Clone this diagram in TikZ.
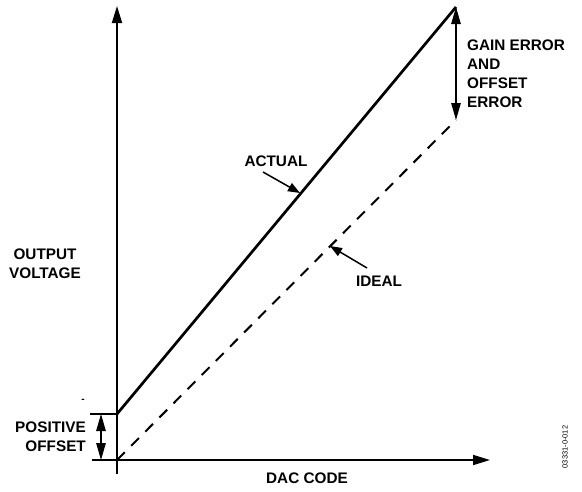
\documentclass[tikz,border=0pt]{standalone}
\usepackage{fontspec}
\setmainfont{Liberation Sans}
\usetikzlibrary{arrows.meta}
\begin{document}
\begin{tikzpicture}[x=1pt,y=-1pt,
  lbl/.style={font=\fontsize{15.3}{19}\selectfont\bfseries, inner sep=0pt, align=center},
  axis/.style={line width=1.8pt, -{Triangle[width=10pt,length=17pt]}},
  dim/.style={line width=1.1pt, {Triangle[width=9.5pt,length=17pt]}-{Triangle[width=9.5pt,length=17pt]}},
  ptr/.style={line width=1.5pt, -{Triangle[width=9pt,length=12pt]}},
  tick/.style={line width=1.5pt}]
\useasboundingbox (0,0) rectangle (582,491);
% coordinates
\coordinate (o) at (117,460);
\coordinate (ybot) at (117,474);
\coordinate (ytop) at (117,6);
\coordinate (xl) at (92,460);
\coordinate (xr) at (490,460);
\coordinate (a0) at (117,414);
\coordinate (a1) at (456,7);
\coordinate (i1) at (456,120);
\coordinate (t1) at (90,414);
% axes
\draw[axis] (ybot) -- (ytop);
\draw[axis] (xl) -- (xr);
% lines
\draw[line width=2.7pt] (a0) -- (a1);
\draw[line width=2pt, dash pattern=on 11pt off 9pt] (o) -- (i1);
% offset ticks
\draw[tick] (t1) -- (a0);
\draw[dim] (101,414) -- (101,460);
% gain error arrow
\draw[dim] (a1) -- (i1);
% labels
\node[lbl, anchor=east, align=right] (po) at (86,437) {POSITIVE\\OFFSET};
\node[lbl] (ov) at (45,264) {OUTPUT\\VOLTAGE};
\node[lbl, anchor=west, align=left] (ge) at (467,74) {GAIN ERROR\\AND\\OFFSET\\ERROR};
\node[lbl] (act) at (276,161) {ACTUAL};
\node[lbl] (ide) at (379,281) {IDEAL};
\node[lbl] (dac) at (307,478) {DAC CODE};
\node[font=\fontsize{7.5}{9}\selectfont, rotate=90, inner sep=0pt] (id) at (565,447) {03331-0-012};
\node[font=\fontsize{10}{12}\selectfont\bfseries, inner sep=0pt] (dot) at (83,401) {-};
% pointers
\coordinate (pa) at (300,193);
\coordinate (pi) at (330,246);
\draw[ptr] (263,172) -- (pa);
\draw[ptr] (367,268) -- (pi);
\end{tikzpicture}
\end{document}
